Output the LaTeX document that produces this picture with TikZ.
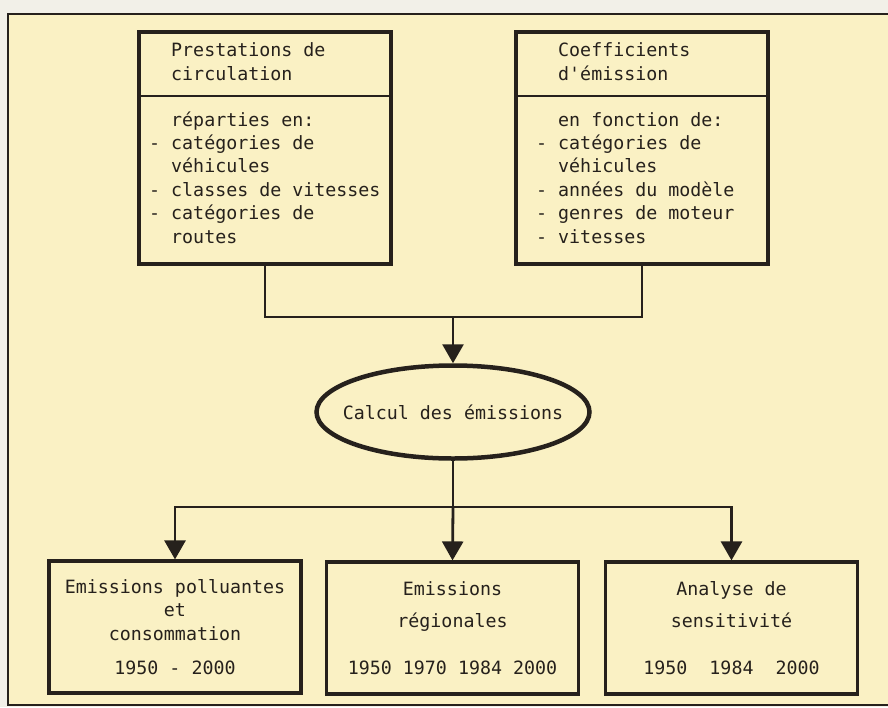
\documentclass[tikz,border=0pt]{standalone}
\usepackage{fontspec}
\usepackage{xcolor}
\usepackage{tikz}
\usetikzlibrary{shapes.geometric,arrows.meta}
\setmonofont{DejaVu Sans Mono}
\definecolor{ink}{RGB}{38,33,28}
\definecolor{cream}{RGB}{250,241,196}
\definecolor{paper}{RGB}{242,240,232}
\newcommand{\tiret}{\llap{-\ }}

\begin{document}
\begin{tikzpicture}[
  x=1pt, y=-1pt,
  every node/.style={font=\ttfamily\fontsize{18.3}{23.4}\selectfont, text=ink},
  cadre/.style={draw=ink, line width=3.2pt, inner sep=0pt, minimum width=252pt},
  liste/.style={anchor=base west, align=left, inner sep=0pt},
  resultat/.style={cadre, minimum height=132pt, align=center},
  calcul/.style={draw=ink, ellipse, line width=4.5pt, inner sep=0pt,
    minimum width=273pt, minimum height=93pt},
  wire/.style={draw=ink, line width=2.8pt},
  fleche/.style={-{Triangle[width=21pt,length=19pt]}}
]
  \useasboundingbox (0,0) rectangle (888,707);
  \fill[paper] (0,0) rectangle (888,707);
  \fill[cream] (8,14) rectangle (888,705);
  \draw[ink, line width=1.5pt] (888,14) -- (8,14) -- (8,705) -- (888,705);

  % the two input boxes
  \node[cadre, minimum height=232pt] (prest) at (265,148) {};
  \node[cadre, minimum height=232pt] (coeff) at (642,148) {};
  \coordinate (cut) at (0,96);
  \draw[wire, line width=2.4pt] (prest.west |- cut) -- (prest.east |- cut);
  \draw[wire, line width=2.4pt] (coeff.west |- cut) -- (coeff.east |- cut);

  % base of a list node is the baseline of its last line
  \node[liste] (prestHead) at (171,80) {Prestations de\\circulation};
  \node[liste] (prestList) at (171,243) {réparties en:\\\tiret catégories de\\véhicules\\%
    \tiret classes de vitesses\\\tiret catégories de\\routes};
  \node[liste] (coeffHead) at (558,80) {Coefficients\\d'émission};
  \node[liste] (coeffList) at (558,243) {en fonction de:\\\tiret catégories de\\véhicules\\%
    \tiret années du modèle\\\tiret genres de moteur\\\tiret vitesses};

  \node[calcul] (calc) at (453,412) {\makebox[0pt]{Calcul des émissions}};

  % the three results
  \node[resultat] (emis) at (175,627)
    {Emissions polluantes\\et\\consommation\\[11pt]1950 - 2000};
  \node[resultat] (region) at (452.5,628)
    {Emissions\\[9pt]régionales\\[23pt]1950 1970 1984 2000};
  \node[resultat] (sens) at (731.5,628)
    {Analyse de\\[9pt]sensitivité\\[23pt]1950\ \ 1984\ \ 2000};

  \coordinate (join) at (453,317);
  \coordinate (split) at (453,507);
  \draw[wire] (prest.south) |- (join) -| (coeff.south);
  \draw[wire, fleche] (join) -- (calc.north);
  \draw[wire] (calc.south) -- (split);
  \draw[wire, fleche] (split) -| (emis.north);
  \draw[wire, fleche] (split) -- (region.north);
  \draw[wire, fleche] (split) -| (sens.north);
\end{tikzpicture}
\end{document}
